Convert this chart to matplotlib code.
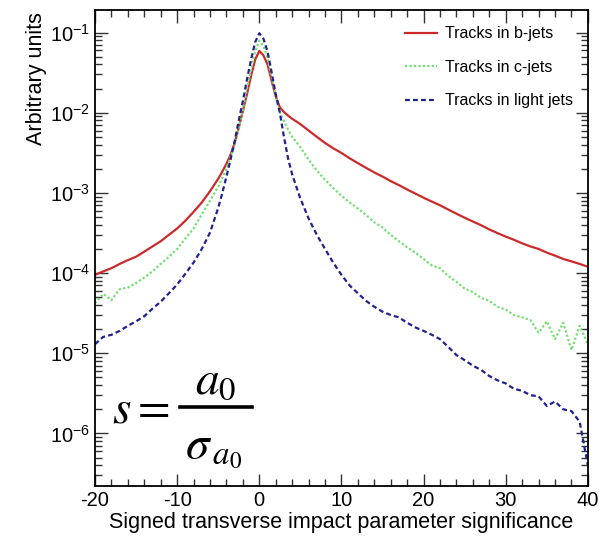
import matplotlib
matplotlib.use("Agg")
import matplotlib.pyplot as plt
from matplotlib.lines import Line2D
from matplotlib.ticker import MultipleLocator, LogLocator, NullFormatter

plt.rcParams["font.family"] = ["Liberation Sans", "DejaVu Sans"]
plt.rcParams["axes.unicode_minus"] = False

# ================= DATA =================
sig = [-20, -19, -18, -17, -16, -15, -14, -13, -12, -11, -10, -9, -8, -7, -6, -5,
       -4.5, -4, -3.5, -3, -2.5, -2, -1.5, -1, -0.5, 0, 0.5, 1, 1.5, 2, 2.5, 3, 3.5, 4, 4.5,
       5, 6, 7, 8, 9, 10, 11, 12, 13, 14, 15, 16, 17, 18, 19, 20, 21, 22,
       23, 24, 25, 26, 27, 28, 29, 30, 31, 32, 33, 34, 35, 36, 37, 38, 39, 40]

b_jets = [9.5e-5, 1.05e-4, 1.15e-4, 1.3e-4, 1.45e-4, 1.6e-4, 1.85e-4, 2.15e-4, 2.5e-4, 3.0e-4,
          3.6e-4, 4.5e-4, 5.8e-4, 7.6e-4, 1.05e-3, 1.5e-3,
          1.85e-3, 2.3e-3, 3.0e-3, 4.2e-3, 6.5e-3, 1.05e-2, 1.7e-2, 2.9e-2, 4.6e-2, 5.9e-2,
          5.2e-2, 4.0e-2, 2.5e-2, 1.6e-2, 1.17e-2, 1.02e-2, 9.2e-3, 8.4e-3, 7.8e-3,
          7.2e-3, 6.0e-3, 5.0e-3, 4.2e-3, 3.6e-3, 3.15e-3, 2.7e-3, 2.35e-3, 2.05e-3, 1.8e-3,
          1.6e-3, 1.4e-3, 1.25e-3, 1.1e-3, 9.8e-4, 8.7e-4, 7.8e-4, 7.0e-4, 6.2e-4, 5.5e-4,
          4.9e-4, 4.4e-4, 3.95e-4, 3.5e-4, 3.15e-4, 2.85e-4, 2.6e-4, 2.35e-4, 2.15e-4, 2.0e-4,
          1.8e-4, 1.65e-4, 1.5e-4, 1.4e-4, 1.3e-4, 1.2e-4]

c_jets = [4.2e-5, 5.5e-5, 4.6e-5, 6.3e-5, 6.6e-5, 7.5e-5, 8.8e-5, 1.05e-4, 1.3e-4, 1.6e-4,
          2.0e-4, 2.7e-4, 3.6e-4, 5.4e-4, 8.0e-4, 1.2e-3,
          1.55e-3, 2.0e-3, 2.8e-3, 4.0e-3, 6.5e-3, 1.1e-2, 2.0e-2, 3.4e-2, 5.8e-2, 7.9e-2,
          6.8e-2, 4.8e-2, 2.8e-2, 1.6e-2, 1.02e-2, 7.8e-3, 6.2e-3, 5.0e-3, 4.3e-3,
          3.7e-3, 2.6e-3, 1.9e-3, 1.45e-3, 1.15e-3, 9.2e-4, 7.6e-4, 6.4e-4, 5.3e-4, 4.3e-4,
          3.7e-4, 3.0e-4, 2.5e-4, 2.1e-4, 1.8e-4, 1.5e-4, 1.25e-4, 1.15e-4, 9.2e-5, 7.8e-5,
          6.4e-5, 5.8e-5, 4.9e-5, 4.5e-5, 3.8e-5, 3.5e-5, 3.0e-5, 2.8e-5, 2.6e-5, 1.8e-5,
          2.5e-5, 1.5e-5, 2.4e-5, 1.1e-5, 2.2e-5, 1.3e-5]

light_jets = [1.3e-5, 1.6e-5, 1.7e-5, 1.9e-5, 2.2e-5, 2.5e-5, 2.9e-5, 3.6e-5, 4.4e-5, 5.6e-5,
              7.2e-5, 9.8e-5, 1.35e-4, 2.0e-4, 3.2e-4, 6.5e-4,
              1.0e-3, 1.6e-3, 2.6e-3, 4.4e-3, 8.0e-3, 1.4e-2, 2.6e-2, 4.6e-2, 7.6e-2, 9.8e-2,
              8.4e-2, 5.8e-2, 3.2e-2, 1.7e-2, 1.0e-2, 5.0e-3, 2.7e-3, 1.7e-3, 1.2e-3,
              8.5e-4, 4.8e-4, 3.0e-4, 2.0e-4, 1.35e-4, 9.5e-5, 7.0e-5, 5.6e-5, 4.5e-5, 3.8e-5,
              3.3e-5, 3.0e-5, 2.8e-5, 2.4e-5, 2.1e-5, 1.9e-5, 1.7e-5, 1.5e-5, 1.2e-5, 9.5e-6,
              8.2e-6, 7.0e-6, 6.2e-6, 5.2e-6, 4.6e-6, 4.2e-6, 3.6e-6, 3.4e-6, 3.0e-6, 2.9e-6,
              2.2e-6, 2.5e-6, 2.0e-6, 1.9e-6, 1.4e-6, 4e-7]

labels = ["Tracks in b-jets", "Tracks in c-jets", "Tracks in light jets"]

# ================= PLOT =================
fig = plt.figure(figsize=(6.13, 5.36), dpi=100)
ax = fig.add_axes([0.155, 0.093, 0.804, 0.888])

ax.plot(sig, b_jets, color="#cc2a2a", lw=1.6, ls="-", label=labels[0])
ax.plot(sig, c_jets, color="#70e070", lw=1.6, ls=(0, (1, 1)), label=labels[1])
ax.plot(sig, light_jets, color="#22228f", lw=1.6, ls=(0, (2.2, 1.4)), label=labels[2])

ax.set_yscale("log")
ax.set_xlim(-20, 40)
ax.set_ylim(2.2e-7, 0.19)

ax.xaxis.set_major_locator(MultipleLocator(10))
ax.xaxis.set_minor_locator(MultipleLocator(2))
ax.yaxis.set_major_locator(LogLocator(base=10, numticks=20))
ax.yaxis.set_minor_locator(LogLocator(base=10, subs=range(2, 10), numticks=20))
ax.yaxis.set_minor_formatter(NullFormatter())

ax.tick_params(which="both", direction="in", top=True, right=True, labelsize=14.5, color="#333333")
ax.tick_params(which="major", length=9, width=1)
ax.tick_params(which="minor", length=5, width=1)
ax.tick_params(axis="x", pad=3.5)
for s in ax.spines.values():
    s.set_linewidth(1.3)

ax.set_xlabel("Signed transverse impact parameter significance", fontsize=15.5, labelpad=1.5)
fig.text(0.060, 0.977, "Arbitrary units", rotation=90, ha="center", va="top", fontsize=15.5)

ax.legend(loc="upper left", bbox_to_anchor=(0.629, 0.966), frameon=False, fontsize=11.5,
          labelspacing=1.15, handlelength=2.0, handletextpad=0.5, borderpad=0, borderaxespad=0)

# formula for the significance: s = a0 / sigma_a0
fig.text(0.183, 0.235, r"$s=$", fontsize=34, math_fontfamily="stix", ha="left", va="center")
fig.text(0.351, 0.287, r"$a_0$", fontsize=34, math_fontfamily="stix", ha="center", va="center")
fig.text(0.348, 0.162, r"$\sigma_{\,a_0}$", fontsize=34, math_fontfamily="stix",
         ha="center", va="center")
fig.add_artist(Line2D([0.294, 0.411], [0.241, 0.241], transform=fig.transFigure,
                      color="black", lw=2.6))

plt.savefig("out.png", dpi=100)
